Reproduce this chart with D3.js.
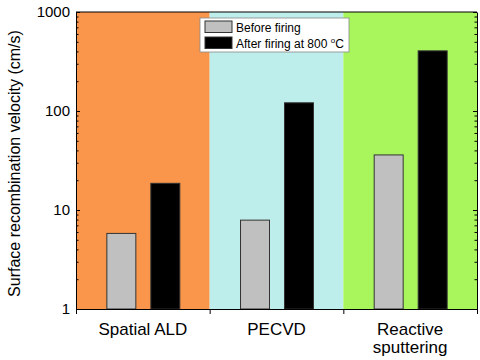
<!DOCTYPE html>
<html><head><meta charset="utf-8">
<script src="https://cdn.jsdelivr.net/npm/d3@7"></script>
<style>body{margin:0;background:#fff}svg{display:block}text{font-family:Arial,"Liberation Sans",sans-serif}</style>
</head><body><svg id="c" width="480" height="360"></svg>
<script>
const categories = ["Spatial ALD", "PECVD", "Reactive sputtering"];
const categoryLines = [["Spatial ALD"], ["PECVD"], ["Reactive", "sputtering"]];
const series = ["Before firing", "After firing at 800 °C"];
const beforeFiring = [5.8, 7.9, 36];
const afterFiring = [18.6, 121, 405];
const yTicks = [1, 10, 100, 1000];
const bgColors = ["#F9964B", "#BEEEEB", "#A9F55C"];
const barColors = ["#C0C0C0", "#000000"];

const svg = d3.select("#c");
const L = 76, R = 477, T = 12, B = 309;
const x = d3.scaleBand().domain(categories).range([L, R]).padding(0);
const xs = d3.scaleBand().domain(series).range([0, x.bandwidth()]).paddingInner(0.341).paddingOuter(0.69);
const y = d3.scaleLog().domain([1, 1000]).range([B, T]);

// backgrounds
svg.append("g").selectAll("rect").data(categories).join("rect")
  .attr("x", d => x(d)).attr("y", T).attr("width", x.bandwidth()).attr("height", B - T)
  .attr("fill", (d, i) => bgColors[i]);

// bars
const vals = [beforeFiring, afterFiring];
series.forEach((s, si) => {
  svg.append("g").selectAll("rect").data(categories).join("rect")
    .attr("x", d => x(d) + xs(s) + 0.5)
    .attr("y", (d, i) => y(vals[si][i]))
    .attr("width", xs.bandwidth())
    .attr("height", (d, i) => B - y(vals[si][i]))
    .attr("fill", barColors[si]).attr("stroke", "#333").attr("stroke-width", 1);
});

// minor tick values
const minor = [];
for (let e = 0; e < 3; e++) for (let m = 2; m <= 9; m++) minor.push(m * Math.pow(10, e));

// left axis
const gl = svg.append("g").attr("transform", `translate(${L},0)`);
gl.call(d3.axisLeft(y).tickValues(yTicks).tickFormat(d3.format("d")).tickSizeInner(-4).tickSizeOuter(0).tickPadding(6));
gl.append("g").call(d3.axisLeft(y).tickValues(minor).tickFormat("").tickSizeInner(-2.5).tickSizeOuter(0)).select(".domain").remove();
gl.selectAll("text").attr("font-size", 15).attr("fill", "#000");

// right axis
const gr = svg.append("g").attr("transform", `translate(${R},0)`);
gr.call(d3.axisRight(y).tickValues(yTicks).tickFormat("").tickSizeInner(-4).tickSizeOuter(0));
gr.append("g").call(d3.axisRight(y).tickValues(minor).tickFormat("").tickSizeInner(-2.5).tickSizeOuter(0)).select(".domain").remove();

// bottom axis
const boundaries = [L].concat(categories.map(c => x(c) + x.bandwidth()));
const xb = d3.scaleLinear().domain([L, R]).range([L, R]);
const gb = svg.append("g").attr("transform", `translate(0,${B})`);
gb.call(d3.axisBottom(xb).tickValues(boundaries).tickFormat("").tickSizeInner(5).tickSizeOuter(0));

// top border
svg.append("line").attr("x1", L).attr("x2", R).attr("y1", T).attr("y2", T).attr("stroke", "#000");
svg.selectAll(".domain").attr("stroke", "#000");
svg.selectAll(".tick line").attr("stroke", "#000");

// category labels
categories.forEach((c, i) => {
  const t = svg.append("text").attr("x", x(c) + x.bandwidth() / 2).attr("y", 335)
    .attr("text-anchor", "middle").attr("font-size", 17).attr("fill", "#000");
  categoryLines[i].forEach((ln, j) => t.append("tspan").attr("x", x(c) + x.bandwidth() / 2).attr("dy", j === 0 ? 0 : 18).text(ln));
});

// y label
svg.append("text").attr("transform", `translate(20,${(T + B) / 2 + 3}) rotate(-90)`)
  .attr("text-anchor", "middle").attr("font-size", 16).attr("fill", "#000")
  .text("Surface recombination velocity (cm/s)");

// legend
const lg = svg.append("g");
lg.append("rect").attr("x", 200).attr("y", 18).attr("width", 149).attr("height", 34)
  .attr("fill", "#fff").attr("stroke", "#888").attr("stroke-width", 0.8);
series.forEach((s, i) => {
  const yy = 21 + i * 16;
  lg.append("rect").attr("x", 205).attr("y", yy).attr("width", 27).attr("height", 11.5)
    .attr("fill", barColors[i]).attr("stroke", "#333");
  const t = lg.append("text").attr("x", 236).attr("y", yy + 10.5).attr("font-size", 12).attr("fill", "#000");
  if (i === 0) t.text(s);
  else {
    t.append("tspan").text("After firing at 800 ");
    t.append("tspan").attr("font-size", 8).attr("dy", -4.5).text("o");
    t.append("tspan").attr("dy", 4.5).text("C");
  }
});
</script></body></html>
